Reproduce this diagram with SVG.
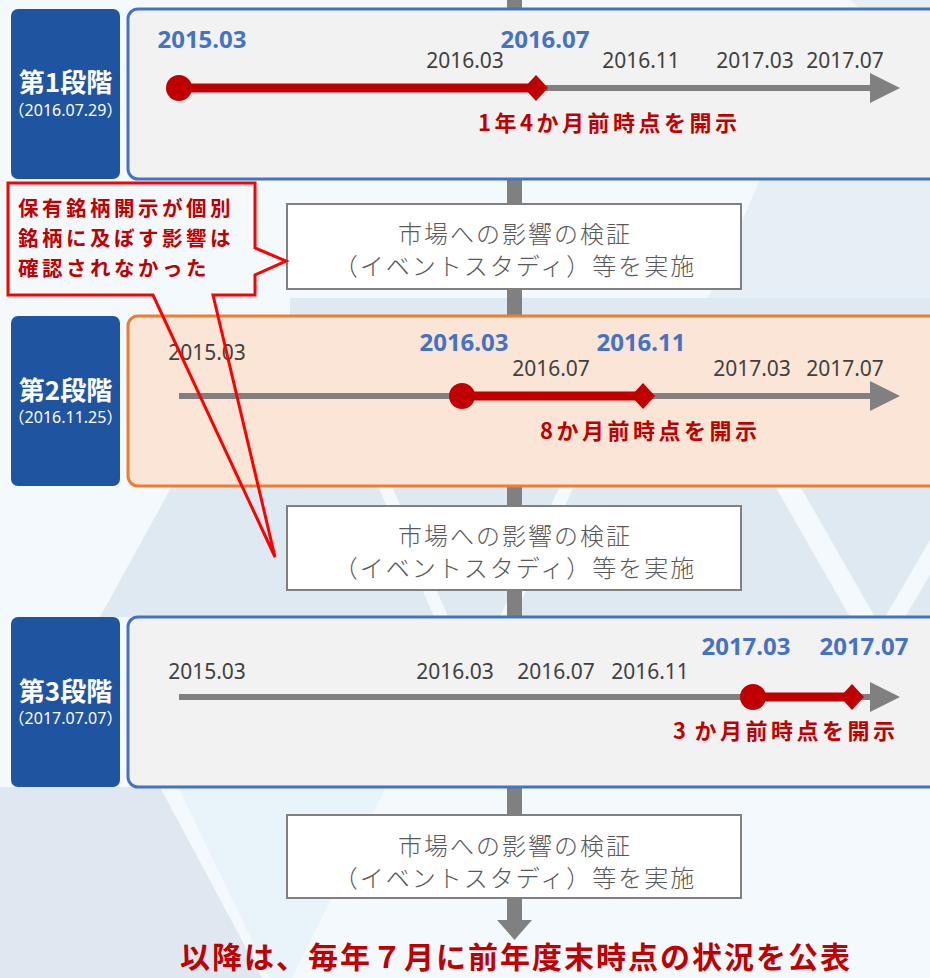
<svg xmlns="http://www.w3.org/2000/svg" width="930" height="978" viewBox="0 0 930 978">
<defs>
<style>
.stage{fill:#1f55a0}
.stt{font-family:"Noto Sans CJK JP","Noto Sans",sans-serif;font-weight:700;font-size:26px;fill:#fff;text-anchor:middle}
.std{font-family:"Noto Sans","Noto Sans CJK JP",sans-serif;font-size:16px;fill:#fff;text-anchor:middle}
.pb{fill:#f2f2f2;stroke:#4472c4;stroke-width:3}
.po{fill:#fbe5d6;stroke:#ed7d31;stroke-width:3}
.gl{font-family:"Noto Sans","Noto Sans CJK JP",sans-serif;font-size:21px;fill:#404040;text-anchor:middle}
.bl{font-family:"Noto Sans","Noto Sans CJK JP",sans-serif;font-size:24px;font-weight:700;fill:#4472c4;text-anchor:middle}
.rl{font-family:"Noto Sans CJK JP","Noto Sans",sans-serif;font-size:22px;font-weight:700;fill:#c00000;letter-spacing:3.5px}
.axis{stroke:#808080;stroke-width:6}
.ah{fill:#808080}
.red{stroke:#c00000;stroke-width:9}
.rf{fill:#c00000}
.box{fill:#fff;stroke:#808080;stroke-width:2}
.bt{font-family:"Noto Sans CJK JP","Noto Sans",sans-serif;font-weight:300;font-size:24px;fill:#595959;text-anchor:middle;letter-spacing:2px}
.ct{font-family:"Noto Sans CJK JP","Noto Sans",sans-serif;font-weight:700;font-size:20.5px;fill:#c00000;letter-spacing:3.5px}
</style>
</defs>
<g id="background">
<rect width="930" height="978" fill="#f4f9fd"/>
<polygon points="850,0 930,0 930,70" fill="#e6eef6"/>
<polygon points="760,180 930,180 930,316 700,316" fill="#e6eef6"/>
<polygon points="290,298 930,298 930,316 290,316" fill="#dfe9f2"/>
<polygon points="172,486 930,486 930,617 100,617" fill="#dfe9f2"/>
<polygon points="378,486 392,486 448,617 434,617" fill="#f4f9fd"/>
<polygon points="560,486 574,486 514,617 500,617" fill="#f4f9fd"/>
<polygon points="775,486 800,486 875,617 850,617" fill="#f4f9fd"/>
<polygon points="930,540 930,575 905,617 885,617" fill="#f4f9fd"/>
<polygon points="0,787 160,787 262,978 0,978" fill="#dfe8f0"/>
<polygon points="178,787 386,787 292,978 270,978" fill="#e9f3fa"/>
</g>
<g id="connectors">
<rect x="507" y="0" width="15" height="922" fill="#808080"/>
<polygon points="497,920 532,920 514.5,940" fill="#808080"/>
</g>
<g id="stage1">
<rect class="stage" x="11" y="9" width="109" height="170" rx="7"/>
<text class="stt" x="65.5" y="92">第1段階</text>
<text class="std" x="65.5" y="116">（2016.07.29）</text>
</g>
<g id="timeline1">
<rect class="pb" x="128" y="9" width="820" height="170" rx="10"/>
<line class="axis" x1="179" y1="88" x2="872" y2="88"/>
<polygon class="ah" points="870,73 900,88 870,103"/>
<line class="red" x1="179" y1="88" x2="536" y2="88"/>
<circle class="rf" cx="179" cy="88" r="13"/>
<polygon class="rf" points="536,75 548,88 536,101 524,88"/>
<text class="bl" x="202" y="48">2015.03</text>
<text class="bl" x="545" y="48">2016.07</text>
<text class="gl" x="465" y="68">2016.03</text>
<text class="gl" x="641" y="68">2016.11</text>
<text class="gl" x="755" y="68">2017.03</text>
<text class="gl" x="845" y="68">2017.07</text>
<text class="rl" x="478" y="131">1年4か月前時点を開示</text>
</g>
<g id="verify1">
<rect class="box" x="287" y="204" width="454" height="85"/>
<text class="bt" x="515" y="243">市場への影響の検証</text>
<text class="bt" x="515" y="275">（イベントスタディ）等を実施</text>
</g>
<g id="stage2">
<rect class="stage" x="11" y="316" width="109" height="170" rx="7"/>
<text class="stt" x="65.5" y="400">第2段階</text>
<text class="std" x="65.5" y="423">（2016.11.25）</text>
</g>
<g id="timeline2">
<rect class="po" x="128" y="316" width="820" height="170" rx="10"/>
<line class="axis" x1="179" y1="396" x2="872" y2="396"/>
<polygon class="ah" points="870,381 900,396 870,411"/>
<line class="red" x1="462" y1="396" x2="643" y2="396"/>
<circle class="rf" cx="462" cy="396" r="13"/>
<polygon class="rf" points="643,383 655,396 643,409 631,396"/>
<text class="gl" x="207" y="360">2015.03</text>
<text class="bl" x="464" y="351">2016.03</text>
<text class="bl" x="641" y="351">2016.11</text>
<text class="gl" x="551" y="376">2016.07</text>
<text class="gl" x="752" y="376">2017.03</text>
<text class="gl" x="845" y="376">2017.07</text>
<text class="rl" x="540" y="439">8か月前時点を開示</text>
</g>
<g id="verify2">
<rect class="box" x="287" y="506" width="454" height="84"/>
<text class="bt" x="515" y="545">市場への影響の検証</text>
<text class="bt" x="515" y="577">（イベントスタディ）等を実施</text>
</g>
<g id="stage3">
<rect class="stage" x="11" y="617" width="109" height="170" rx="7"/>
<text class="stt" x="65.5" y="701">第3段階</text>
<text class="std" x="65.5" y="724">（2017.07.07）</text>
</g>
<g id="timeline3">
<rect class="pb" x="128" y="617" width="820" height="170" rx="10"/>
<line class="axis" x1="179" y1="697" x2="872" y2="697"/>
<polygon class="ah" points="870,682 900,697 870,712"/>
<line class="red" x1="753" y1="697" x2="852" y2="697"/>
<circle class="rf" cx="753" cy="697" r="13"/>
<polygon class="rf" points="852,684 864,697 852,710 840,697"/>
<text class="gl" x="207" y="679">2015.03</text>
<text class="gl" x="455" y="679">2016.03</text>
<text class="gl" x="556" y="679">2016.07</text>
<text class="gl" x="650" y="679">2016.11</text>
<text class="bl" x="746" y="655">2017.03</text>
<text class="bl" x="864" y="655">2017.07</text>
<text class="rl" x="673" y="739">3<tspan letter-spacing="0">&#160;</tspan>か月前時点を開示</text>
</g>
<g id="verify3">
<rect class="box" x="287" y="815" width="454" height="83"/>
<text class="bt" x="515" y="855">市場への影響の検証</text>
<text class="bt" x="515" y="887">（イベントスタディ）等を実施</text>
</g>
<g id="callout">
<path d="M8,183 H255 V248 L286,261 L255,275 V295 H8 Z" fill="#f4f9fd"/>
<path d="M153,295 H8 V183 H255 V248 L286,261 L255,275 V295 H213 L275,557 Z" fill="none" stroke="#ff0000" stroke-width="3" stroke-linejoin="miter"/>
<text class="ct" x="18" y="216">保有銘柄開示が個別</text>
<text class="ct" x="18" y="246">銘柄に及ぼす影響は</text>
<text class="ct" x="18" y="276">確認されなかった</text>
</g>
<g id="conclusion">
<text x="516" y="968" font-family="'Noto Sans CJK JP','Noto Sans',sans-serif" font-weight="700" font-size="30" fill="#c00000" text-anchor="middle" letter-spacing="2">以降は、毎年７月に前年度末時点の状況を公表</text>
</g>
</svg>
